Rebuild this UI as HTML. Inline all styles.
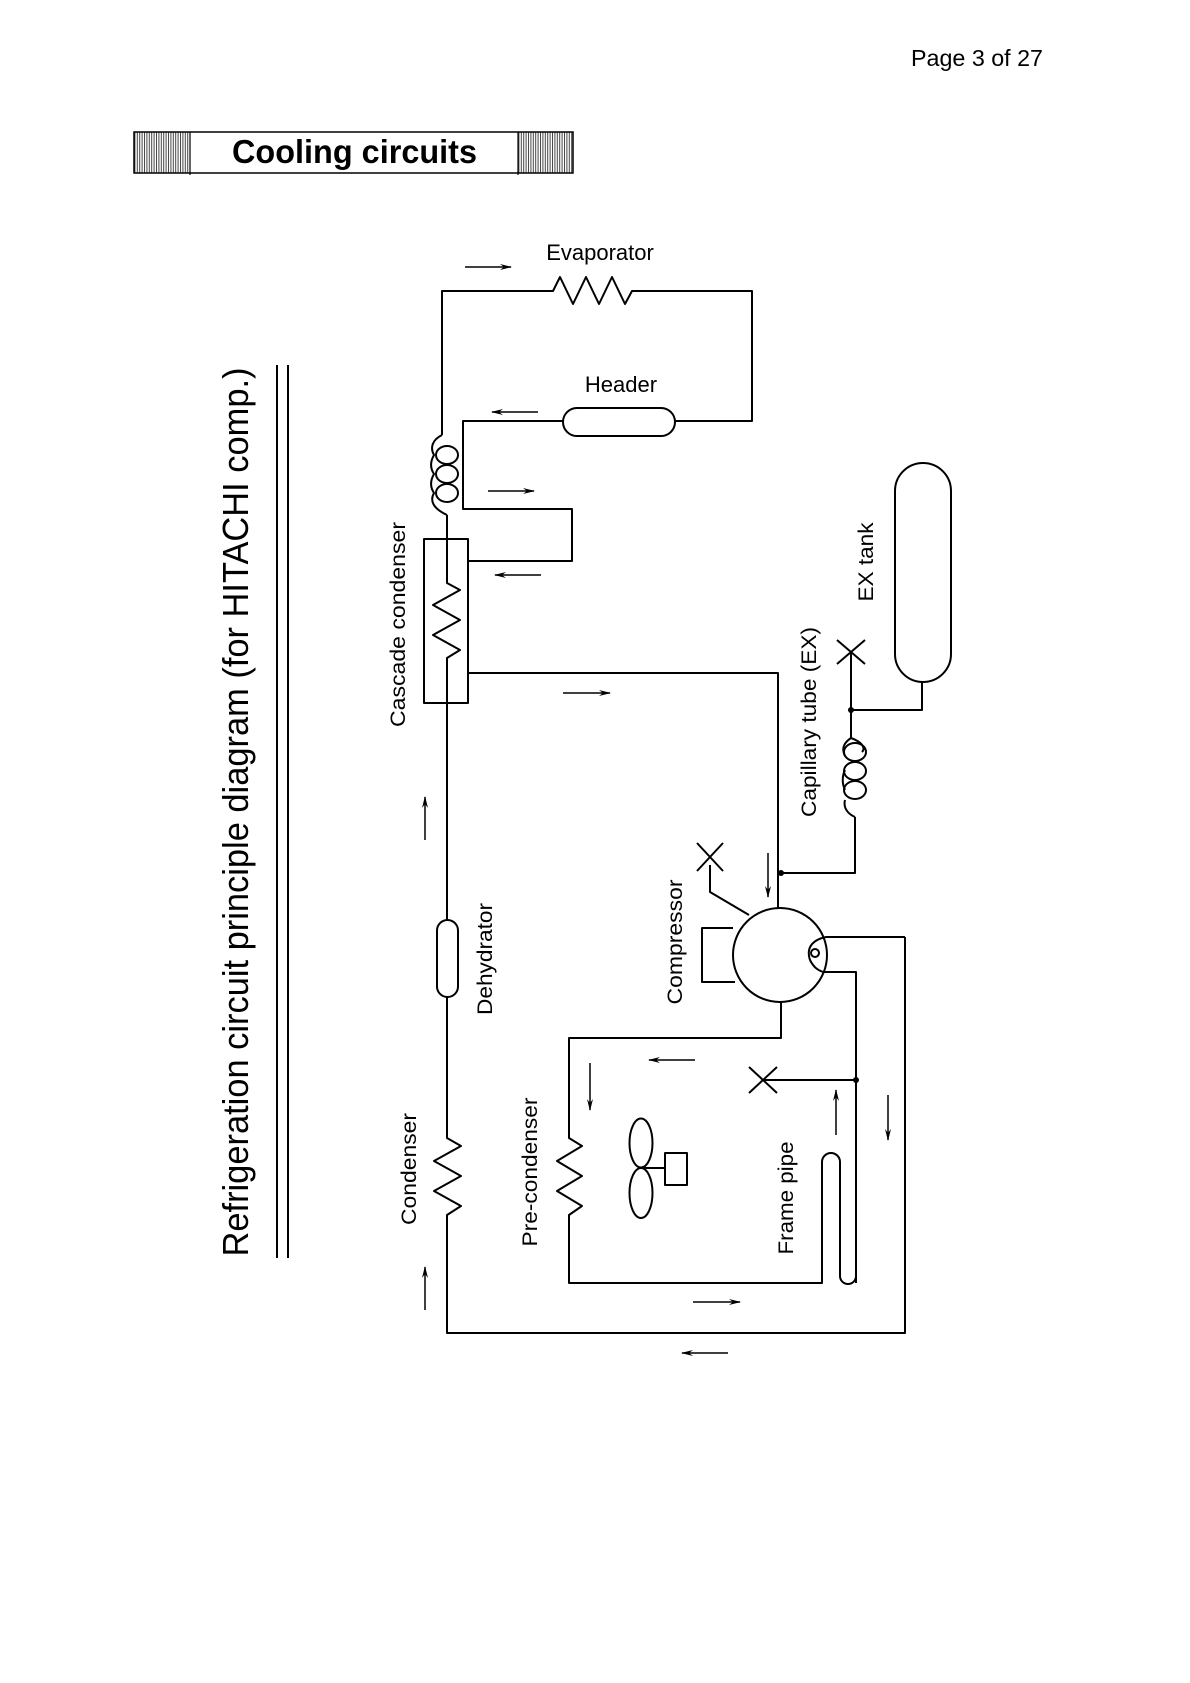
<!DOCTYPE html>
<html><head><meta charset="utf-8"><style>
html,body{margin:0;padding:0;background:#fff;}
svg{display:block;}
text{font-family:"Liberation Sans",sans-serif;fill:#000;}
</style></head><body>
<svg width="1190" height="1683" viewBox="0 0 1190 1683" xmlns="http://www.w3.org/2000/svg">
<defs>
<pattern id="st" width="2.4" height="10" patternUnits="userSpaceOnUse">
<rect x="0" y="0" width="1" height="10" fill="#444"/>
</pattern>
<marker id="ah" viewBox="0 0 12 8" refX="11" refY="4" markerWidth="12" markerHeight="8" markerUnits="userSpaceOnUse" orient="auto">
<path d="M0,1 L12,4 L0,7 L4,4 Z" fill="#000"/>
</marker>
</defs>

<!-- header -->
<text x="911" y="66" font-size="23" textLength="132" lengthAdjust="spacingAndGlyphs">Page 3 of 27</text>
<rect x="134" y="132" width="56" height="41" fill="url(#st)"/>
<rect x="518" y="132" width="55" height="41" fill="url(#st)"/>
<rect x="134" y="132" width="439" height="41" fill="none" stroke="#000" stroke-width="1.5"/>
<line x1="190" y1="132" x2="190" y2="175" stroke="#000" stroke-width="1.2"/>
<line x1="518" y1="132" x2="518" y2="175" stroke="#000" stroke-width="1.2"/>
<text x="232" y="163" font-size="33" font-weight="bold" textLength="245" lengthAdjust="spacingAndGlyphs">Cooling circuits</text>

<!-- title -->
<text transform="translate(248,812) rotate(-90)" text-anchor="middle" font-size="36" textLength="889" lengthAdjust="spacingAndGlyphs">Refrigeration circuit principle diagram (for HITACHI comp.)</text>
<line x1="277" y1="365" x2="277" y2="1258" stroke="#000" stroke-width="2"/>
<line x1="288" y1="365" x2="288" y2="1258" stroke="#000" stroke-width="2"/>

<g fill="none" stroke="#000" stroke-width="2" stroke-linejoin="round">
<path d="M442,435 L442,291 L553,291 L560,277 L573,304 L586,277 L599,304 L612,277 L625,304 L632,291 L752,291 L752,421 L675,421"/>
<rect x="563" y="408" width="112" height="28" rx="14"/>
<path d="M563,421 L463,421 L463,509 L572,509 L572,561 L468,561"/>
<path d="M442,435 C432,440 430,448 434,455 C430,462 430,468 434,474 C430,481 430,487 434,493 C430,500 432,508 447,515"/>
<ellipse cx="447" cy="455" rx="11" ry="9"/>
<ellipse cx="447" cy="474" rx="11" ry="9"/>
<ellipse cx="447" cy="493" rx="11" ry="9"/>
<rect x="424" y="539" width="44" height="164"/>
<path d="M447,515 L447,583 L460,590 L433,605 L460,620 L433,635 L460,650 L447,658 L447,920"/>
<path d="M468,673 L778,673 L778,908"/>
<rect x="437" y="920" width="21" height="77" rx="10.5"/>
<path d="M447,997 L447,1138 L461,1146 L434,1161 L461,1176 L434,1191 L461,1206 L447,1215 L447,1333 L905,1333 L905,937"/>
<circle cx="780" cy="955" r="47"/>
<path d="M733,928 L702,928 L702,982 L735,982"/>
<path d="M749,915 L710,892 L710,865"/>
<path d="M826,937 L905,937"/>
<path d="M823,972 L856,972 L856,1283"/>
<path d="M810,960 C806,948 812,940 826,937 M810,960 C814,968 818,970 823,972"/>
<circle cx="815" cy="953" r="4"/>
<path d="M781,873 L855,873 L855,817"/>
<path d="M851,710 L851,738 C862,742 866,748 862,752"/>
<ellipse cx="855" cy="752" rx="11" ry="9"/>
<ellipse cx="855" cy="771" rx="11" ry="9"/>
<ellipse cx="855" cy="790" rx="11" ry="9"/>
<path d="M851,738 C842,744 842,750 845,756 M845,770 C842,776 842,784 845,790 M845,800 C843,808 848,814 855,817"/>
<path d="M851,710 L851,652"/>
<path d="M837,640 L865,664 M865,640 L837,664"/>
<path d="M851,710 L922,710 L922,682"/>
<rect x="895" y="463" width="56" height="219" rx="28"/>
<path d="M781,1002 L781,1038 L569,1038 L569,1138 L582,1146 L557,1161 L582,1176 L557,1191 L582,1206 L569,1215 L569,1283 L822,1283 L822,1162 A9,9 0 0 1 840,1162 L840,1276 A8,8 0 0 0 856,1276"/>
<ellipse cx="641" cy="1143" rx="11.5" ry="24.5"/>
<ellipse cx="641" cy="1193" rx="11.5" ry="25"/>
<path d="M641,1168 L665,1168"/>
<rect x="665" y="1153" width="22" height="32"/>
<path d="M697,843 L723,871 M723,843 L697,871"/>
<path d="M856,1080 L763,1080 M749,1067 L777,1093 M777,1067 L749,1093"/>
</g>
<g fill="#000"><circle cx="781" cy="873" r="3"/><circle cx="851" cy="710" r="3"/><circle cx="856" cy="1080" r="3"/></g>

<g stroke="#000" stroke-width="1.5" marker-end="url(#ah)">
<line x1="465" y1="267" x2="511" y2="267"/>
<line x1="538" y1="412" x2="492" y2="412"/>
<line x1="488" y1="491" x2="534" y2="491"/>
<line x1="541" y1="575" x2="495" y2="575"/>
<line x1="563" y1="693" x2="610" y2="693"/>
<line x1="425" y1="840" x2="425" y2="797"/>
<line x1="768" y1="853" x2="768" y2="897"/>
<line x1="695" y1="1060" x2="649" y2="1060"/>
<line x1="590" y1="1063" x2="590" y2="1110"/>
<line x1="836" y1="1135" x2="836" y2="1090"/>
<line x1="888" y1="1095" x2="888" y2="1140"/>
<line x1="693" y1="1302" x2="740" y2="1302"/>
<line x1="425" y1="1310" x2="425" y2="1267"/>
<line x1="728" y1="1353" x2="682" y2="1353"/>
</g>

<g font-size="21">
<text x="600" y="260" text-anchor="middle" font-size="22">Evaporator</text>
<text x="621" y="392" text-anchor="middle" font-size="22">Header</text>
<text transform="translate(405,624.5) rotate(-90)" text-anchor="middle" textLength="205" lengthAdjust="spacingAndGlyphs">Cascade condenser</text>
<text transform="translate(492,959) rotate(-90)" text-anchor="middle" textLength="112" lengthAdjust="spacingAndGlyphs">Dehydrator</text>
<text transform="translate(682,942) rotate(-90)" text-anchor="middle" textLength="125" lengthAdjust="spacingAndGlyphs">Compressor</text>
<text transform="translate(816,722) rotate(-90)" text-anchor="middle" textLength="190" lengthAdjust="spacingAndGlyphs">Capillary tube (EX)</text>
<text transform="translate(873,562) rotate(-90)" text-anchor="middle" textLength="79" lengthAdjust="spacingAndGlyphs">EX tank</text>
<text transform="translate(416,1169) rotate(-90)" text-anchor="middle" textLength="112" lengthAdjust="spacingAndGlyphs">Condenser</text>
<text transform="translate(537,1172) rotate(-90)" text-anchor="middle" textLength="149" lengthAdjust="spacingAndGlyphs">Pre-condenser</text>
<text transform="translate(793,1198) rotate(-90)" text-anchor="middle" textLength="113" lengthAdjust="spacingAndGlyphs">Frame pipe</text>
</g>
</svg>
</body></html>
